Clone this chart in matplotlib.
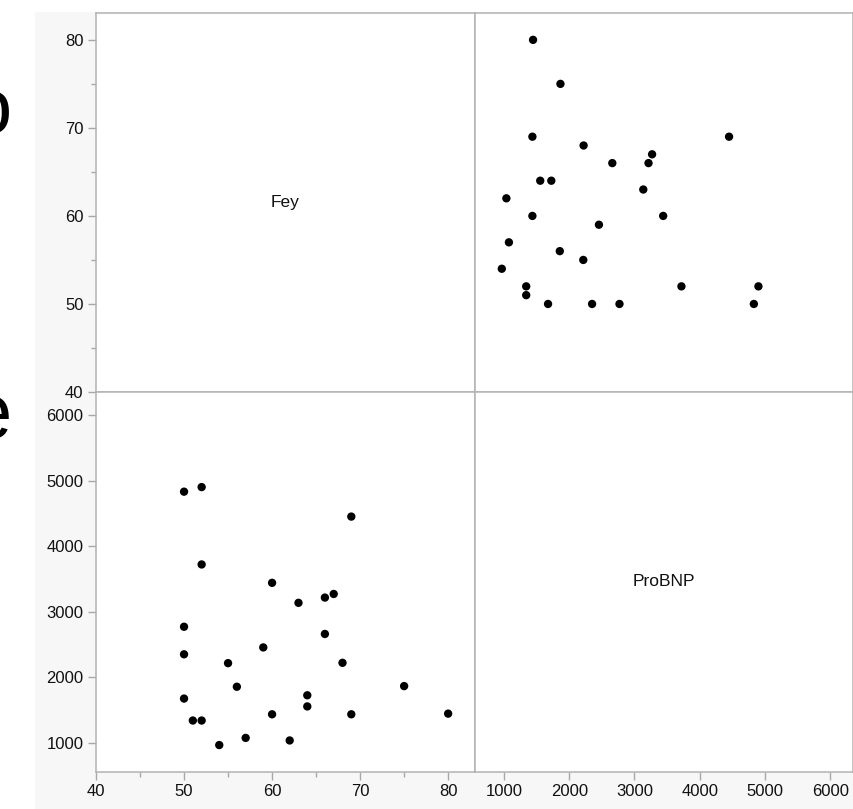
import matplotlib
matplotlib.use("Agg")
import matplotlib.pyplot as plt
from matplotlib.patches import Rectangle
from matplotlib.ticker import MultipleLocator

plt.rcParams['font.family'] = ['Liberation Sans', 'DejaVu Sans']

# Данные: Fey и ProBNP
fey = [80, 75, 69, 69, 68, 67, 66, 66, 64, 64, 63, 62, 60, 60,
       59, 57, 56, 55, 54, 52, 52, 52, 51, 50, 50, 50, 50]
probnp = [1445, 1865, 1435, 4450, 2220, 3270, 2660, 3215, 1555, 1725,
          3135, 1036, 1435, 3440, 2455, 1075, 1855, 2215, 966, 1340,
          3720, 4900, 1340, 1675, 2350, 2770, 4830]

fey_lim = (40, 83.05)
bnp_lim = (555, 6350)
fey_ticks = [40, 50, 60, 70, 80]
bnp_ticks = [1000, 2000, 3000, 4000, 5000, 6000]

W, H = 854, 809
fig = plt.figure(figsize=(W / 100, H / 100), dpi=100)
fig.patch.set_facecolor('white')

# серый фон под подписями осей
fig.add_artist(Rectangle((35 / W, 0), 1, (H - 12) / H, transform=fig.transFigure,
                         facecolor='#f7f7f7', edgecolor='none', zorder=0))


def box(x0, y0, x1, y1):
    return [x0 / W, (H - y1) / H, (x1 - x0) / W, (y1 - y0) / H]


ax_tl = fig.add_axes(box(96, 13, 475, 392))
ax_tr = fig.add_axes(box(475, 13, 853, 392))
ax_bl = fig.add_axes(box(96, 392, 475, 772))
ax_br = fig.add_axes(box(475, 392, 853, 772))

for ax in (ax_tl, ax_tr, ax_bl, ax_br):
    ax.set_facecolor('white')
    for sp in ax.spines.values():
        sp.set_color('#b3b3b3')
        sp.set_linewidth(1.1)
    ax.tick_params(which='both', direction='out', color='#a8a8a8',
                   labelsize=12, labelcolor='#111111', pad=3,
                   left=False, bottom=False, labelleft=False, labelbottom=False)
    ax.tick_params(which='major', length=6, width=1)
    ax.tick_params(which='minor', length=3.5, width=1)

# — Fey / ProBNP —
ax_tl.set_xlim(*fey_lim)
ax_tl.set_ylim(*fey_lim)
ax_tl.set_yticks(fey_ticks)
ax_tl.yaxis.set_minor_locator(MultipleLocator(5))
ax_tl.tick_params(axis='y', which='both', left=True, labelleft=True)
ax_tl.tick_params(axis='x', which='both', bottom=False)
ax_tl.text(0.5, 0.5, "Fey", transform=ax_tl.transAxes, ha='center', va='center',
           fontsize=12.5, color='#111111')

ax_tr.scatter(probnp, fey, s=36, color='black', edgecolors='none', zorder=3)
ax_tr.set_xlim(*bnp_lim)
ax_tr.set_ylim(*fey_lim)
ax_tr.set_xticks([])
ax_tr.set_yticks([])

ax_bl.scatter(fey, probnp, s=36, color='black', edgecolors='none', zorder=3)
ax_bl.set_xlim(*fey_lim)
ax_bl.set_ylim(*bnp_lim)
ax_bl.set_xticks(fey_ticks)
ax_bl.xaxis.set_minor_locator(MultipleLocator(5))
ax_bl.set_yticks(bnp_ticks)
ax_bl.tick_params(axis='both', which='both', left=True, bottom=True,
                  labelleft=True, labelbottom=True)
ax_bl.tick_params(axis='y', which='minor', left=False)

ax_br.set_xlim(*bnp_lim)
ax_br.set_ylim(*bnp_lim)
ax_br.set_xticks(bnp_ticks)
ax_br.set_yticks([])
ax_br.tick_params(axis='x', which='major', bottom=True, labelbottom=True)
ax_br.text(0.5, 0.5, "ProBNP", transform=ax_br.transAxes, ha='center', va='center',
           fontsize=12.5, color='#111111')

# обрезанные крупные буквы слева
fig.text(12 / W, (H - 133) / H, "o", ha='right', va='baseline', fontsize=56, color='black')
fig.text(12 / W, (H - 438) / H, "e", ha='right', va='baseline', fontsize=56, color='black')

fig.savefig("out.png", dpi=100)
